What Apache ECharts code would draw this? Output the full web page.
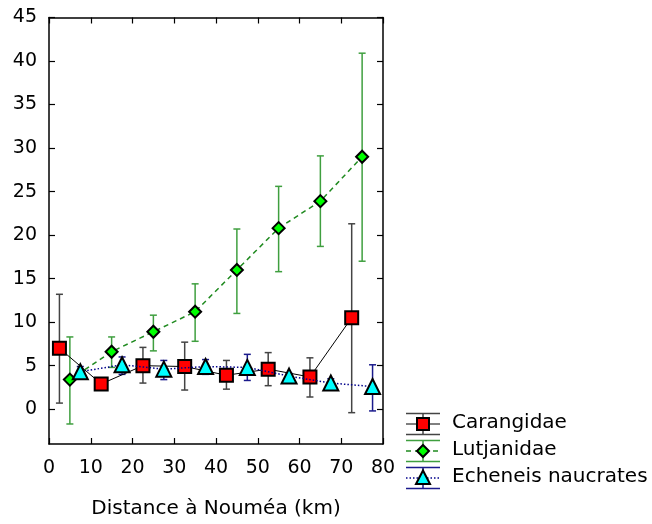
<!DOCTYPE html>
<html>
<head>
<meta charset="utf-8">
<script src="https://cdn.jsdelivr.net/npm/echarts@6/dist/echarts.min.js"></script>
<style>
  html, body { margin: 0; padding: 0; background: #fff; }
  #chart { width: 652px; height: 524px; }
</style>
</head>
<body>
<div id="chart"></div>
<script>
// data
const caraX = [2.5, 12.5, 22.5, 32.5, 42.5, 52.5, 62.5, 72.5]
const caraY = [7.0, 2.9, 5.0, 4.9, 3.9, 4.6, 3.7, 10.5]
const caraLo = [0.7, 2.6, 3.0, 2.2, 2.3, 2.7, 1.4, -0.4]
const caraHi = [13.2, 3.2, 7.1, 7.7, 5.6, 6.5, 5.9, 21.3]

const lutX = [5, 15, 25, 35, 45, 55, 65, 75]
const lutY = [3.4, 6.6, 8.9, 11.2, 16.0, 20.8, 23.9, 29.0]
const lutLo = [-1.7, 4.8, 6.7, 7.8, 11.0, 15.8, 18.7, 17.0]
const lutHi = [8.3, 8.3, 10.8, 14.4, 20.7, 25.6, 29.1, 40.9]

const echX = [7.5, 17.5, 27.5, 37.5, 47.5, 57.5, 67.5, 77.5]
const echY = [4.3, 5.1, 4.6, 4.9, 4.8, 3.8, 3.0, 2.6]
const echLo = [3.8, 4.0, 3.4, 4.0, 3.3, 3.5, 2.6, -0.2]
const echHi = [4.9, 6.0, 5.6, 5.7, 6.3, 4.1, 3.5, 5.1]

const yTicks = [0, 5, 10, 15, 20, 25, 30, 35, 40, 45]

const names = ['Carangidae', 'Lutjanidae', 'Echeneis naucrates']

const FONT = 'DejaVu Sans'
const ch = echarts.init(document.getElementById('chart'))

function pts(xs, ys) {
  return xs.map((x, i) => [x, ys[i]])
}
function bars(xs, lo, hi) {
  return xs.map((x, i) => [x, lo[i], hi[i]])
}
function errSeries(data, color) {
  return {
    type: 'custom',
    z: 1,
    data: data,
    encode: { x: 0, y: [1, 2] },
    renderItem: (params, api) => {
      let x = api.value(0)
      let lo = api.coord([x, api.value(1)])
      let hi = api.coord([x, api.value(2)])
      let w = 3.5
      let st = { stroke: color, lineWidth: 1.5 }
      return {
        type: 'group',
        children: [
          { type: 'line', shape: { x1: lo[0], y1: lo[1], x2: hi[0], y2: hi[1] }, style: st },
          { type: 'line', shape: { x1: lo[0] - w, y1: lo[1], x2: lo[0] + w, y2: lo[1] }, style: st },
          { type: 'line', shape: { x1: hi[0] - w, y1: hi[1], x2: hi[0] + w, y2: hi[1] }, style: st }
        ]
      }
    }
  }
}

const cols = {
  cara: { err: '#444444', line: '#000000', fill: '#ff0000' },
  lut: { err: '#3f9f3f', line: '#1f8a1f', fill: '#00ff00' },
  ech: { err: '#1a1a8c', line: '#00008b', fill: '#00ffff' }
}

const axisLineStyle = { color: '#000', width: 1.5 }
const tickStyle = { color: '#000', width: 1.2 }

// legend samples drawn as graphic
function legendItem(cy, c, symbol, dash) {
  let x1 = 406, x2 = 440, xm = 423
  let items = [
    { type: 'line', shape: { x1: x1, y1: cy - 10.5, x2: x2, y2: cy - 10.5 }, style: { stroke: c.err, lineWidth: 1.5 } },
    { type: 'line', shape: { x1: x1, y1: cy + 10.5, x2: x2, y2: cy + 10.5 }, style: { stroke: c.err, lineWidth: 1.5 } },
    { type: 'line', shape: { x1: xm, y1: cy - 10.5, x2: xm, y2: cy + 10.5 }, style: { stroke: c.err, lineWidth: 1.5 } },
    { type: 'line', shape: { x1: x1, y1: cy, x2: x2, y2: cy }, style: { stroke: c.line, lineWidth: dash === 'solid' ? 1 : 1.5, lineDash: dash === 'dashed' ? [5, 4] : dash === 'dotted' ? [1.5, 2] : null } }
  ]
  if (symbol === 'rect') {
    items.push({ type: 'rect', shape: { x: xm - 6, y: cy - 6, width: 12, height: 12 }, style: { fill: c.fill, stroke: '#000', lineWidth: 2 } })
  } else if (symbol === 'diamond') {
    items.push({ type: 'polygon', shape: { points: [[xm, cy - 6], [xm + 6, cy], [xm, cy + 6], [xm - 6, cy]] }, style: { fill: c.fill, stroke: '#000', lineWidth: 2 } })
  } else {
    items.push({ type: 'polygon', shape: { points: [[xm, cy - 7.5], [xm + 7, cy + 6], [xm - 7, cy + 6]] }, style: { fill: c.fill, stroke: '#000', lineWidth: 2 } })
  }
  return items
}

let legendTexts = [424, 451, 478].map((cy, i) => ({
  type: 'text', left: 452, top: cy - 11.5,
  style: { text: names[i], font: '20px "DejaVu Sans"', fill: '#000' }
}))

function xAx(pos, extra) {
  return Object.assign({
    type: 'value', min: 0, max: 80, interval: 10, position: pos,
    axisLine: { show: true, onZero: false, lineStyle: axisLineStyle },
    axisTick: { show: true, inside: true, length: 6, lineStyle: tickStyle },
    splitLine: { show: false }
  }, extra)
}
function yAx(pos, extra) {
  return Object.assign({
    type: 'value', min: -4, max: 45, position: pos,
    axisLine: { show: true, onZero: false, lineStyle: axisLineStyle },
    axisTick: { show: true, inside: true, length: 6, lineStyle: tickStyle, customValues: yTicks },
    splitLine: { show: false }
  }, extra)
}

let option = {
  animation: false,
  backgroundColor: '#fff',
  grid: { left: 49, right: 269, top: 17.5, bottom: 80 },
  xAxis: [
    xAx('bottom', {
      name: 'Distance à Nouméa (km)', nameLocation: 'middle', nameGap: 55,
      nameTextStyle: { fontFamily: FONT, fontSize: 20, color: '#000' },
      axisLabel: { fontFamily: FONT, fontSize: 19, color: '#000', margin: 15 }
    }),
    xAx('top', { axisLabel: { show: false } })
  ],
  yAxis: [
    yAx('left', {
      axisLabel: { fontFamily: FONT, fontSize: 19, color: '#000', margin: 12, customValues: yTicks }
    }),
    yAx('right', { axisLabel: { show: false, customValues: yTicks } })
  ],
  graphic: [].concat(
    legendItem(424, cols.cara, 'rect', 'solid'),
    legendItem(451, cols.lut, 'diamond', 'dashed'),
    legendItem(478, cols.ech, 'triangle', 'dotted'),
    legendTexts
  ),
  series: [
    errSeries(bars(caraX, caraLo, caraHi), cols.cara.err),
    errSeries(bars(lutX, lutLo, lutHi), cols.lut.err),
    errSeries(bars(echX, echLo, echHi), cols.ech.err),
    {
      name: names[0], type: 'line', z: 3, data: pts(caraX, caraY),
      symbol: 'rect', symbolSize: 13,
      lineStyle: { color: cols.cara.line, width: 1 },
      itemStyle: { color: cols.cara.fill, borderColor: '#000', borderWidth: 2 }
    },
    {
      name: names[1], type: 'line', z: 4, data: pts(lutX, lutY),
      symbol: 'diamond', symbolSize: 12,
      lineStyle: { color: cols.lut.line, width: 1.5, type: [5, 4] },
      itemStyle: { color: cols.lut.fill, borderColor: '#000', borderWidth: 2 }
    },
    {
      name: names[2], type: 'line', z: 5, data: pts(echX, echY),
      symbol: 'triangle', symbolSize: 15,
      lineStyle: { color: cols.ech.line, width: 1.5, type: [1.5, 2] },
      itemStyle: { color: cols.ech.fill, borderColor: '#000', borderWidth: 2 }
    }
  ]
}
ch.setOption(option)
</script>
</body>
</html>
